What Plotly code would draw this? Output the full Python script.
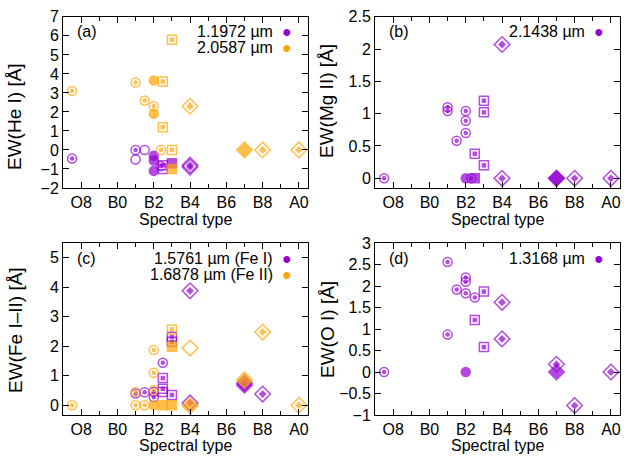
import plotly.graph_objects as go

PURPLE = "#9400D3"
ORANGE = "#FFA500"

# Spectral-type axis: B0 = 0, O8 = -2, A0 = 10
tick_vals = [-2, 0, 2, 4, 6, 8, 10]
tick_text = ["O8", "B0", "B2", "B4", "B6", "B8", "A0"]

# y tick values per panel
a_yticks = [-2, -1, 0, 1, 2, 3, 4, 5, 6, 7]
b_yticks = [0, 0.5, 1, 1.5, 2, 2.5]
c_yticks = [0, 1, 2, 3, 4, 5]
d_yticks = [-1, -0.5, 0, 0.5, 1, 1.5, 2, 2.5, 3]

# ---- Panel (a) He I ----
a_or_x = [-2.5, 1, 1.5, 2, 2, 2, 2.5, 2.5, 2.4, 3, 3, 3, 4, 7, 8, 10]
a_or_y = [3.1, 3.55, 2.6, 3.65, 2.3, 1.9, 3.6, 1.2, 0.0, 5.8, 0.0, -1.0, 2.3, 0.0, 0.0, 0.0]
a_or_shape = ["c", "c", "c", "c", "c", "c", "s", "s", "c", "s", "s", "s", "d", "d", "d", "d"]
a_or_fill = ["p", "p", "p", "f", "p", "f", "p", "p", "p", "p", "p", "f", "p", "f", "p", "p"]

a_pu_x = [-2.5, 1, 1, 1.5, 2, 2, 2, 2.4, 2.5, 2.5, 3, 4, 4]
a_pu_y = [-0.45, 0.0, -0.5, 0.0, -0.3, -0.55, -1.1, -0.85, -1.0, -0.8, -0.7, -0.8, -0.9]
a_pu_shape = ["c", "c", "c", "c", "c", "c", "c", "c", "s", "s", "s", "d", "d"]
a_pu_fill = ["p", "p", "o", "o", "f", "f", "f", "p", "o", "p", "f", "p", "p"]

# ---- Panel (b) Mg II ----
b_pu_x = [-2.5, 1, 1, 1.5, 2, 2, 2, 2, 2.3, 2.5, 2.5, 3, 3, 3, 4, 4, 7, 7, 8, 10]
b_pu_y = [0, 1.1, 1.04, 0.58, 1.04, 0.89, 0.7, 0, 0, 0.38, 0, 1.2, 1.02, 0.2, 2.07, 0, 0, 0, 0, 0]
b_pu_shape = ["c", "c", "c", "c", "c", "c", "c", "c", "c", "s", "s", "s", "s", "s", "d", "d", "d", "d", "d", "d"]
b_pu_fill = ["p", "p", "p", "p", "p", "p", "p", "f", "p", "p", "f", "p", "p", "p", "p", "p", "f", "f", "p", "p"]

# ---- Panel (c) Fe I / Fe II ----
c_or_x = [-2.5, 1, 1, 1.5, 2, 2, 2, 2, 2.5, 3, 3, 3, 4, 4, 7, 8, 10]
c_or_y = [0, 0.45, 0, 0, 1.87, 1.1, 0.52, 0, 0, 2.57, 1.98, 0, 1.94, -0.02, 0.86, 2.48, 0]
c_or_shape = ["c", "c", "c", "c", "c", "c", "c", "c", "s", "s", "s", "s", "d", "d", "d", "d", "d"]
c_or_fill = ["p", "p", "p", "p", "p", "p", "p", "f", "f", "p", "f", "f", "o", "f", "f", "p", "p"]

c_pu_x = [1, 1.5, 2, 2, 2.5, 2.5, 2.5, 2.5, 3, 3, 3, 4, 4, 7, 7, 8]
c_pu_y = [0.4, 0.44, 0.46, 0.27, 1.44, 0.92, 0.56, 0.45, 2.32, 2.15, 0.35, 3.88, 0.08, 0.68, 0.75, 0.38]
c_pu_shape = ["c", "c", "c", "c", "c", "s", "s", "s", "s", "s", "s", "d", "d", "d", "d", "d"]
c_pu_fill = ["p", "p", "p", "p", "p", "p", "p", "o", "p", "p", "p", "p", "p", "f", "p", "p"]

# ---- Panel (d) O I ----
d_pu_x = [-2.5, 1, 1, 1.5, 2, 2, 2, 2, 2.5, 2.5, 3, 3, 4, 4, 7, 7, 8, 10]
d_pu_y = [0, 2.56, 0.87, 1.92, 2.2, 2.1, 1.83, 0, 1.73, 1.21, 1.87, 0.58, 1.62, 0.77, 0.18, 0, -0.78, 0]
d_pu_shape = ["c", "c", "c", "c", "c", "c", "c", "c", "c", "s", "s", "s", "d", "d", "d", "d", "d", "d"]
d_pu_fill = ["p", "p", "p", "p", "p", "p", "p", "f", "p", "p", "p", "p", "p", "p", "p", "f", "p", "p"]

SYM = {"c": "circle", "s": "square", "d": "diamond"}
SIZE = {"c": 9, "s": 9, "d": 12}

fig = go.Figure()

panels = [
    ("x", "y", [(a_pu_x, a_pu_y, a_pu_shape, a_pu_fill, PURPLE), (a_or_x, a_or_y, a_or_shape, a_or_fill, ORANGE)]),
    ("x2", "y2", [(b_pu_x, b_pu_y, b_pu_shape, b_pu_fill, PURPLE)]),
    ("x3", "y3", [(c_pu_x, c_pu_y, c_pu_shape, c_pu_fill, PURPLE), (c_or_x, c_or_y, c_or_shape, c_or_fill, ORANGE)]),
    ("x4", "y4", [(d_pu_x, d_pu_y, d_pu_shape, d_pu_fill, PURPLE)]),
]

for xa, ya, series in panels:
    for xs, ys, shapes, fills, col in series:
        fig.add_trace(go.Scatter(
            x=xs, y=ys, mode="markers", xaxis=xa, yaxis=ya, showlegend=False,
            marker=dict(
                symbol=[SYM[s] if f == "f" else SYM[s] + "-open" for s, f in zip(shapes, fills)],
                size=[SIZE[s] for s in shapes],
                color=col,
                line=dict(color=col, width=1.5),
            ),
            hoverinfo="skip", cliponaxis=False,
        ))
        px_ = [x for x, f in zip(xs, fills) if f == "p"]
        py_ = [y for y, f in zip(ys, fills) if f == "p"]
        ps_ = [s for s, f in zip(shapes, fills) if f == "p"]
        fig.add_trace(go.Scatter(
            x=px_, y=py_, mode="markers", xaxis=xa, yaxis=ya, showlegend=False,
            marker=dict(
                symbol=[SYM[s] for s in ps_],
                size=[SIZE[s] * 0.5 for s in ps_],
                color=col, line=dict(width=0),
            ),
            hoverinfo="skip", cliponaxis=False,
        ))

W, H = 624, 456
def px_x(a, b):
    return [a / W, b / W]
def px_y(top, bot):
    return [1 - bot / H, 1 - top / H]

FAM = "Liberation Sans, Arial, sans-serif"
FONT = dict(family=FAM, size=16, color="black")
YT_FONT = dict(family=FAM, size=19, color="black")

xaxis_common = dict(
    range=[-3, 10.5], tickvals=tick_vals, ticktext=tick_text,
    ticks="inside", ticklen=6, tickwidth=1, tickcolor="black",
    minor=dict(dtick=1, tick0=0, ticks="inside", ticklen=4, tickcolor="black"),
    showline=True, linecolor="black", linewidth=1, mirror="ticks",
    showgrid=False, zeroline=False, tickfont=FONT, automargin=False,
)
yaxis_common = dict(
    ticks="inside", ticklen=6, tickwidth=1, tickcolor="black",
    showline=True, linecolor="black", linewidth=1, mirror="ticks",
    showgrid=False, zeroline=False, tickfont=FONT, automargin=False,
    tickmode="array", ticklabeloverflow="allow",
)

dom_xl = px_x(63, 308)
dom_xr = px_x(375, 620)
dom_yt = px_y(16.5, 188)
dom_yb = px_y(243, 415)

fig.update_layout(
    width=W, height=H, margin=dict(l=0, r=0, t=0, b=0, autoexpand=False),
    paper_bgcolor="white", plot_bgcolor="white", font=FONT,
    xaxis=dict(domain=dom_xl, anchor="y", **xaxis_common),
    yaxis=dict(domain=dom_yt, anchor="x", range=[-2, 7.02], tickvals=a_yticks,
               ticktext=[("−%d" % -v) if v < 0 else str(v) for v in a_yticks], **yaxis_common),
    xaxis2=dict(domain=dom_xr, anchor="y2", **xaxis_common),
    yaxis2=dict(domain=dom_yt, anchor="x2", range=[-0.15, 2.503], tickvals=b_yticks, **yaxis_common),
    xaxis3=dict(domain=dom_xl, anchor="y3", **xaxis_common),
    yaxis3=dict(domain=dom_yb, anchor="x3", range=[-0.33, 5.5], tickvals=c_yticks, **yaxis_common),
    xaxis4=dict(domain=dom_xr, anchor="y4", **xaxis_common),
    yaxis4=dict(domain=dom_yb, anchor="x4", range=[-1, 3], tickvals=d_yticks, **yaxis_common),
)

ann = []
ytitles = [("EW(He I) [Å]", 15, 117), ("EW(Mg II) [Å]", 327, 101),
           ("EW(Fe I–II) [Å]", 15, 330), ("EW(O I) [Å]", 327, 330)]
for t, xp, yp in ytitles:
    ann.append(dict(xref="paper", yref="paper", x=xp / W, y=1 - yp / H, text=t,
                    textangle=-90, showarrow=False, xanchor="center", yanchor="middle", font=YT_FONT))
xtitles = [((63 + 308) / 2, 219), ((375 + 620) / 2, 219), ((63 + 308) / 2, 445), ((375 + 620) / 2, 445)]
for xp, yp in xtitles:
    ann.append(dict(xref="paper", yref="paper", x=xp / W, y=1 - yp / H, text="Spectral type",
                    showarrow=False, xanchor="center", yanchor="middle", font=FONT))

labels = [("x", "y", "(a)", [("1.1972 µm", PURPLE), ("2.0587 µm", ORANGE)]),
          ("x2", "y2", "(b)", [("2.1438 µm", PURPLE)]),
          ("x3", "y3", "(c)", [("1.5761 µm (Fe I)", PURPLE), ("1.6878 µm (Fe II)", ORANGE)]),
          ("x4", "y4", "(d)", [("1.3168 µm", PURPLE)])]
PW, PH = 245.0, 171.0
for xa, ya, lab, entries in labels:
    ann.append(dict(xref=xa + " domain", yref=ya + " domain", x=12 / PW, y=1 - 15 / PH,
                    text=lab, showarrow=False, xanchor="left", yanchor="middle", font=FONT))
    for i, (t, col) in enumerate(entries):
        yy = 1 - (15 + 16 * i) / PH
        ann.append(dict(xref=xa + " domain", yref=ya + " domain", x=211 / PW, y=yy,
                        text=t, showarrow=False, xanchor="right", yanchor="middle", font=FONT,
                        borderpad=0))
        ann.append(dict(xref=xa + " domain", yref=ya + " domain", x=224 / PW, y=yy,
                        text="●", showarrow=False, xanchor="center", yanchor="middle",
                        font=dict(family=FAM, size=16, color=col), borderpad=0))
fig.update_layout(annotations=ann)

fig.write_html("out.html")
